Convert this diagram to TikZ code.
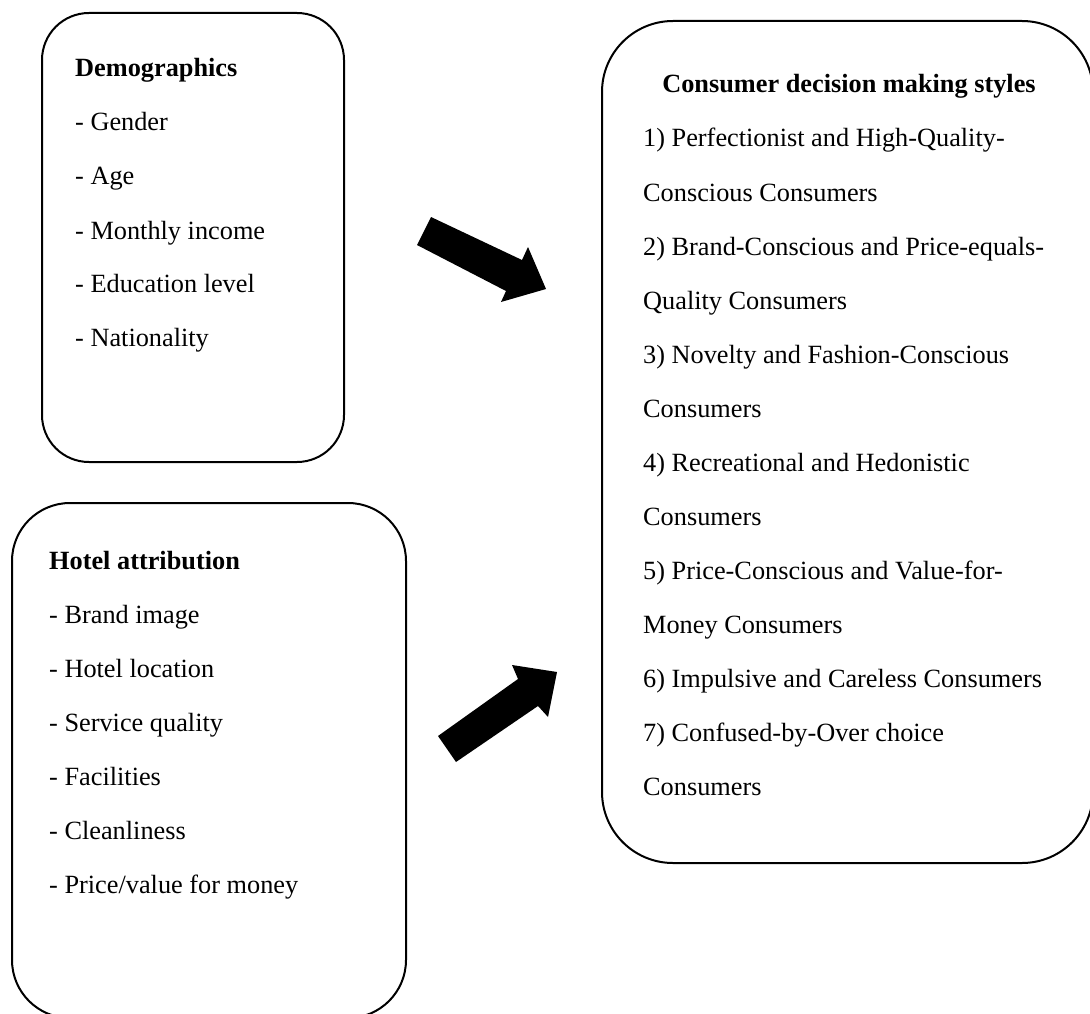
\documentclass[tikz,border=0pt]{standalone}
\usepackage{fontspec}
\setmainfont{Liberation Serif}
\begin{document}
\begin{tikzpicture}[x=1pt,y=-1pt,
  frame/.style={draw=black, line width=2pt},
  txt/.style={anchor=base west, inner sep=0pt, font=\fontsize{26.3}{30}\selectfont},
  ttl/.style={txt, font=\fontsize{26.3}{30}\selectfont\bfseries},
  blockarrow/.style={fill=black}]
\useasboundingbox (0,0) rectangle (1090,1014);
\clip (0,0) rectangle (1090,1014);
% boxes
\draw[frame, rounded corners=47pt] (42,13) rectangle (344,462);
\draw[frame, rounded corners=58pt] (12,503) rectangle (406,1018);
\draw[frame, rounded corners=71pt] (602,21) rectangle (1093,863);
% Demographics
\node[ttl] (d0) at (75,77) {Demographics};
\node[txt] (d1) at (75,131) {- Gender};
\node[txt] (d2) at (75,185) {- Age};
\node[txt] (d3) at (75,239) {- Monthly income};
\node[txt] (d4) at (75,292) {- Education level};
\node[txt] (d5) at (75,346) {- Nationality};
% Hotel attribution
\node[ttl] (h0) at (49,569) {Hotel attribution};
\node[txt] (h1) at (49,623) {- Brand image};
\node[txt] (h2) at (49,677) {- Hotel location};
\node[txt] (h3) at (49,731) {- Service quality};
\node[txt] (h4) at (49,785) {- Facilities};
\node[txt] (h5) at (49,839) {- Cleanliness};
\node[txt] (h6) at (49,893) {- Price/value for money};
% Consumer decision making styles
\node[ttl, anchor=base] (c0) at (849,93) {Consumer decision making styles};
\node[txt] (c1) at (643,147) {1) Perfectionist and High-Quality-};
\node[txt] (c2) at (643,201) {Conscious Consumers};
\node[txt] (c3) at (643,255) {2) Brand-Conscious and Price-equals-};
\node[txt] (c4) at (643,309) {Quality Consumers};
\node[txt] (c5) at (643,363) {3) Novelty and Fashion-Conscious};
\node[txt] (c6) at (643,417) {Consumers};
\node[txt] (c7) at (643,471) {4) Recreational and Hedonistic};
\node[txt] (c8) at (643,525) {Consumers};
\node[txt] (c9) at (643,579) {5) Price-Conscious and Value-for-};
\node[txt] (c10) at (643,633) {Money Consumers};
\node[txt] (c11) at (643,687) {6) Impulsive and Careless Consumers};
\node[txt] (c12) at (643,741) {7) Confused-by-Over choice};
\node[txt] (c13) at (643,795) {Consumers};
% block arrows
\fill[blockarrow] (431,217) -- (522,260) -- (528,247) -- (546,289) -- (501,302) -- (506,291) -- (417,245) -- cycle;
\fill[blockarrow] (438,736) -- (518,679) -- (512,665) -- (557,672) -- (548,717) -- (538,706) -- (456,762) -- cycle;
\end{tikzpicture}
\end{document}
